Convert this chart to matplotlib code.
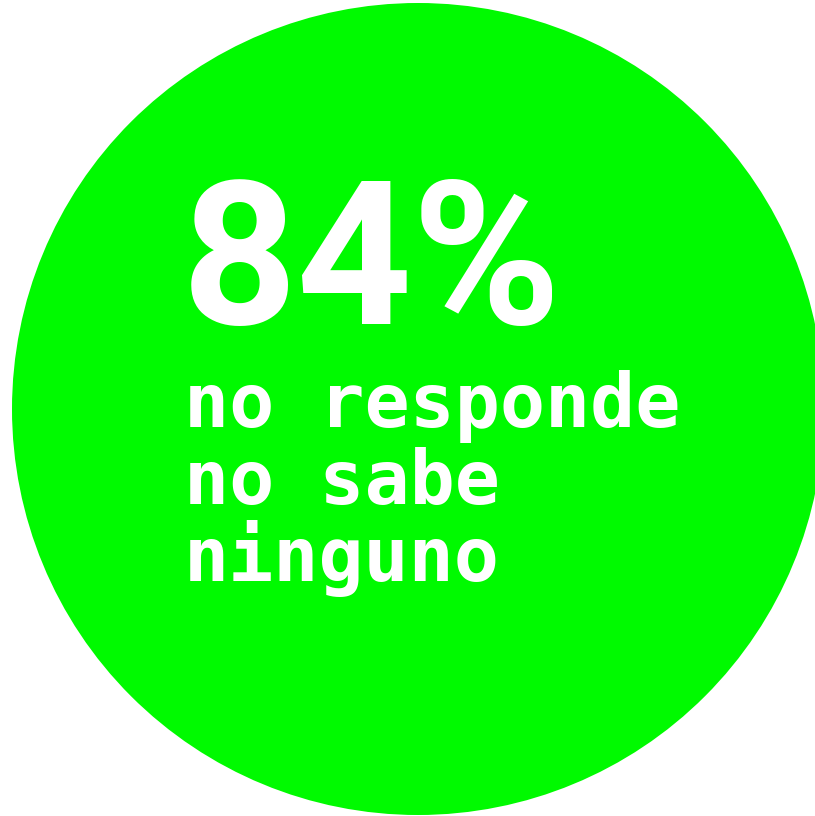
import matplotlib
matplotlib.use("Agg")
import matplotlib.pyplot as plt
from matplotlib.patches import Circle
from matplotlib import font_manager as fm
import os

# Data
share_value = [84]
share_suffix = ["%"]
category_lines = ["no responde", "no sabe", "ninguno"]

GREEN = "#00fa00"


def find_font(name, must=(), avoid=()):
    for f in sorted(fm.findSystemFonts()):
        b = os.path.basename(f).lower()
        if name.lower() in b and all(m in b for m in must) and not any(a in b for a in avoid):
            return fm.FontProperties(fname=f)
    return None


big_fp = find_font("roboto", must=("bold",), avoid=("italic", "condensed", "mono", "slab", "flex", "serif"))
if big_fp is None:
    big_fp = fm.FontProperties(family="DejaVu Sans", weight="bold")

fig = plt.figure(figsize=(8.15, 8.16), dpi=100)
ax = fig.add_axes([0, 0, 1, 1])
ax.set_xlim(0, 815)
ax.set_ylim(816, 0)
ax.axis("off")

ax.add_patch(Circle((418, 409), 406, facecolor=GREEN, edgecolor="none"))

big = f"{share_value[0]}{share_suffix[0]}"
fp = big_fp.copy()
fp.set_size(145)
ax.text(182, 324, big, fontproperties=fp, color="white", ha="left", va="baseline")

for i, line in enumerate(category_lines):
    ax.text(184, 427 + i * 77, line, family="DejaVu Sans Mono", fontweight="bold",
            fontsize=54, color="white", ha="left", va="baseline")

fig.savefig("out.png", dpi=100)
